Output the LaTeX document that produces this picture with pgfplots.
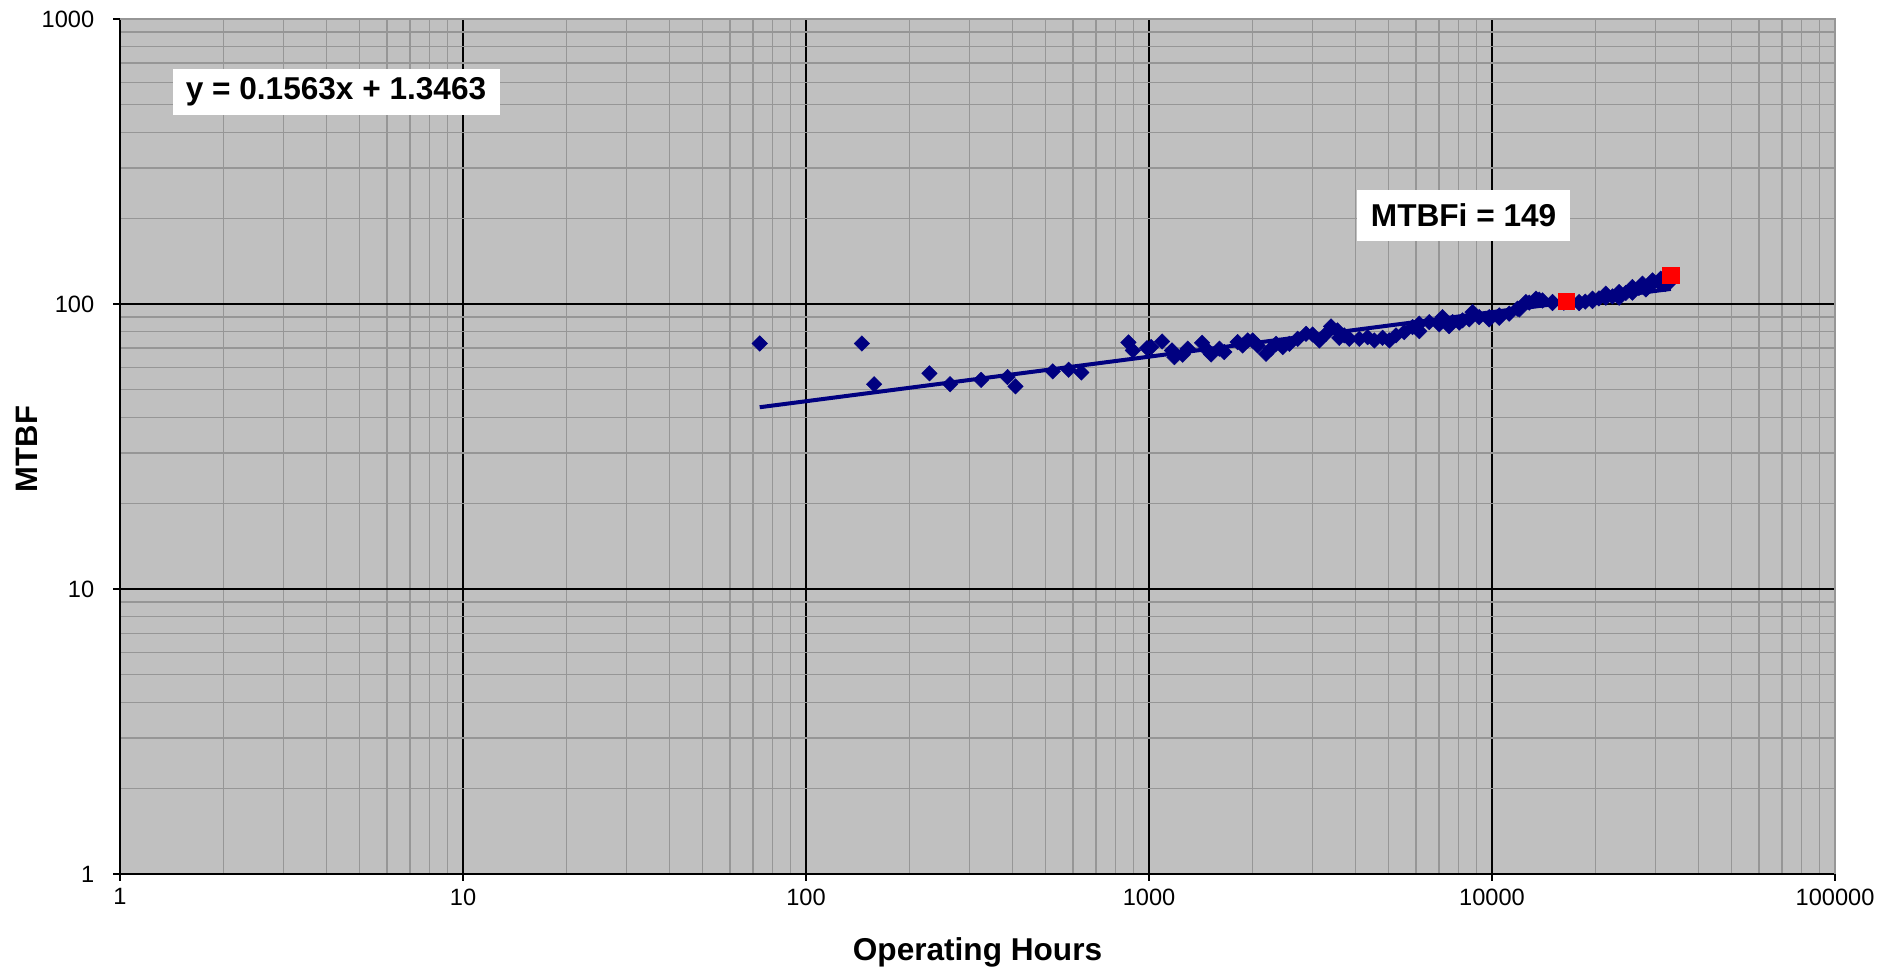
\documentclass[border=0pt]{standalone}
\usepackage{fontspec}
\setmainfont{Liberation Sans}
\usepackage{pgfplots}
\pgfplotsset{compat=1.18}
\definecolor{plotgray}{RGB}{192,192,192}
\definecolor{gridgray}{RGB}{150,150,150}
\definecolor{navy}{RGB}{0,0,128}
\definecolor{pointred}{RGB}{255,0,0}

% operating hours vs. cumulative MTBF
\pgfplotstableread{
x y
73.3 72.7
145.5 72.7
158 52.3
229 57.1
263 52.3
324 54.2
387 55.4
408 51.4
524 58.0
583 58.8
635 57.5
871 73.3
897 68.7
987 70.0
1014 70.6
1092 73.9
1167 68.7
1186 65.1
1254 66.4
1297 69.7
1428 73.1
1473 69.3
1517 66.5
1604 69.7
1658 67.8
1813 73.5
1875 71.5
1939 74.5
2005 74.5
2074 71.5
2194 66.9
2268 69.7
2346 72.5
2453 70.6
2566 72.5
2713 75.5
2870 78.6
2999 78.2
3137 74.5
3281 78.6
3394 83.4
3546 80.8
3587 76.1
3709 77.6
3837 75.5
4104 75.5
4339 76.5
4538 74.5
4797 76.1
5017 74.5
5248 77.6
5549 79.7
5868 83.0
6137 85.3
6137 80.3
6561 86.4
7018 84.8
7175 89.9
7504 83.6
7673 86.4
8025 86.0
8204 87.6
8583 88.3
8773 93.7
9177 89.9
9813 89.9
9813 88.3
10495 91.2
10495 89.5
11222 92.5
11867 96.3
12006 95.7
12557 101.6
12838 101.1
13428 104.4
13725 103.5
14034 102.9
15010 101.6
15010 100.7
16200 101.0
17955 101.6
17955 100.7
18700 101.9
19627 104.4
19627 102.4
20500 104.6
21473 108.7
21473 105.2
22450 106.3
23478 110.1
23478 105.2
24550 109.4
25670 114.7
25670 109.6
26800 113.9
27447 117.8
28080 112.5
29350 121.0
29350 117.8
30700 118.8
31056 122.7
32000 121.0
32000 117.5
33000 119.5
}\mtbfdata

\begin{document}
\begin{tikzpicture}[x=1pt,y=1pt]
\path[use as bounding box] (0,0) rectangle (946.5,485.5);
\begin{axis}[
  at={(60pt,48.5pt)}, anchor=south west,
  scale only axis, width=857.5pt, height=427.5pt,
  xmode=log, ymode=log,
  xmin=1, xmax=100000, ymin=1, ymax=1000,
  axis background/.style={fill=plotgray},
  grid=both,
  major grid style={black, line width=0.65pt},
  minor grid style={gridgray, line width=0.65pt},
  xtick={1,10,100,1000,10000,100000},
  xticklabels={1,10,100,1000,10000,100000},
  ytick={1,10,100,1000},
  yticklabels={1,10,100,1000},
  axis x line*=bottom, axis y line*=left,
  axis line style={black, line width=0.75pt},
  tick align=outside,
  major tick length=3.5pt, minor tick length=0pt,
  tick style={black, line width=0.65pt},
  tick label style={font=\fontsize{11.8}{13}\selectfont},
  xticklabel style={inner sep=0pt, anchor=north, yshift=-3.6pt},
  yticklabel style={inner sep=0pt, anchor=east, xshift=-9.2pt},
  clip=false,
]
% plot area border
\draw[gridgray, line width=0.65pt] (rel axis cs:0,1) -- (rel axis cs:1,1) -- (rel axis cs:1,0);
% Duane fit line
\addplot[navy, line width=2pt] coordinates {(73.3,43.43) (33210,112.97)};
% observed MTBF
\addplot[only marks, mark=square*, mark size=2.75pt,
  mark options={rotate=45, fill=navy, draw=navy, line width=0.2pt}]
  table[x=x, y=y] {\mtbfdata};
% highlighted points
\addplot[only marks, mark=square*, mark size=4.1pt,
  mark options={fill=pointred, draw=pointred, line width=0.2pt}]
  coordinates {(16486,102.1) (33210,126.0)};
\end{axis}
\node[fill=white, minimum width=163.5pt, minimum height=23pt, inner sep=0pt,
  font=\fontsize{15.8}{18}\selectfont\bfseries] at (168,439.6) {y = 0.1563x + 1.3463};
\node[fill=white, minimum width=106.3pt, minimum height=25.5pt, inner sep=0pt,
  font=\fontsize{15.8}{18}\selectfont\bfseries] at (731.8,377.75) {MTBFi = 149};
\node[font=\fontsize{15.8}{18}\selectfont\bfseries] at (488.75,9.2) {Operating Hours};
\node[rotate=90, font=\fontsize{15.5}{18}\selectfont\bfseries] at (13.3,261) {MTBF};
\end{tikzpicture}
\end{document}
